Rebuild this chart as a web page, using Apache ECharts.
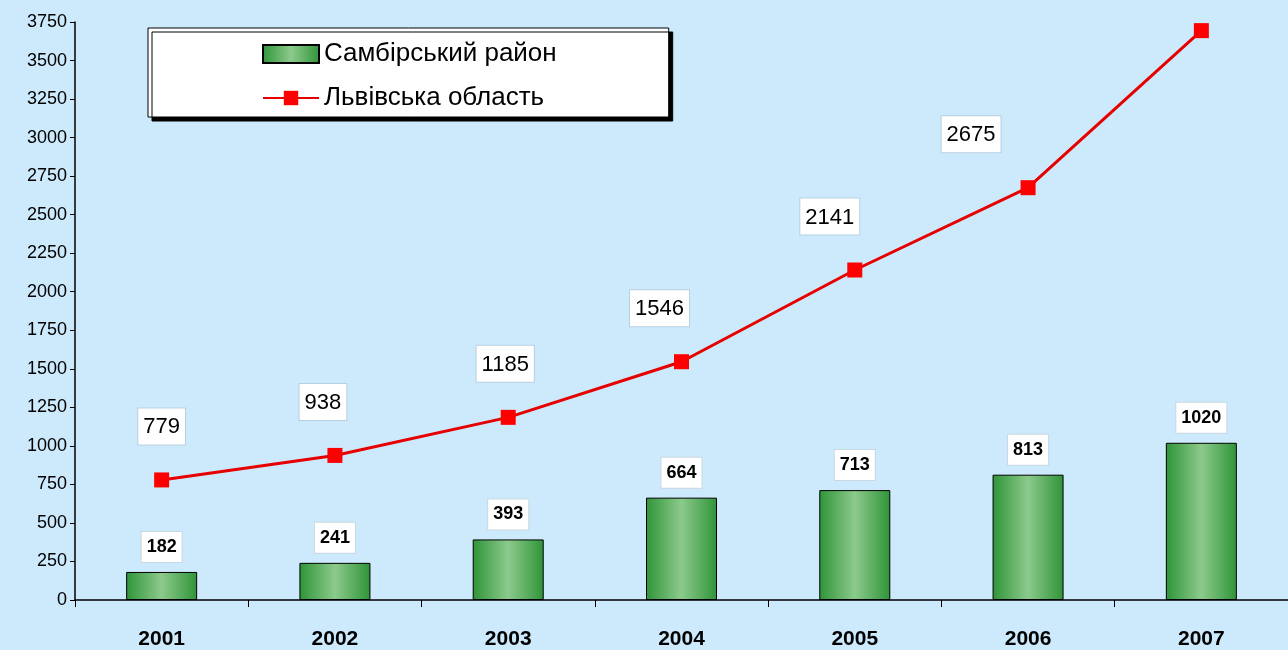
<!DOCTYPE html>
<html>
<head>
<meta charset="utf-8">
<script src="https://cdn.jsdelivr.net/npm/echarts@6/dist/echarts.min.js"></script>
<style>
  html, body { margin: 0; padding: 0; background: #cdeafc; }
  #chart { width: 1288px; height: 650px; }
</style>
</head>
<body>
<div id="chart"></div>
<script>
// дані з діаграми
const years = ['2001', '2002', '2003', '2004', '2005', '2006', '2007']
const sambirValues = [182, 241, 393, 664, 713, 813, 1020]
const lvivValues = [779, 938, 1185, 1546, 2141, 2675, 3694]
const yTicks = [0, 3750, 250] // min, max, крок

// зсув підписів лінії вліво (як в оригіналі)
const lineLabelShift = [0, -12, -3, -22, -25, -57, -79]

const chart = echarts.init(document.getElementById('chart'))

const barGradient = new echarts.graphic.LinearGradient(0, 0, 1, 0, [
    { offset: 0, color: '#2f9438' },
    { offset: 0.5, color: '#8cca8c' },
    { offset: 1, color: '#2f9438' }
])

const option = {
    backgroundColor: '#cdeafc',
    textStyle: { fontFamily: 'Liberation Sans, Arial, sans-serif' },
    legend: {
        orient: 'vertical',
        left: 148,
        top: 28,
        padding: [13, 112, 6, 114],
        itemGap: 18,
        itemWidth: 56,
        itemHeight: 18,
        backgroundColor: '#ffffff',
        borderColor: '#000',
        borderWidth: 1,
        shadowColor: '#000',
        shadowOffsetX: 4,
        shadowOffsetY: 4,
        shadowBlur: 0,
        textStyle: { fontSize: 26, color: '#000' },
        data: [
            { name: 'Самбірський район', icon: 'rect' },
            { name: 'Львівська область' }
        ]
    },
    grid: {
        left: 75,
        top: 22,
        bottom: 50,
        width: 1223
    },
    xAxis: {
        type: 'category',
        data: years,
        axisLine: { lineStyle: { color: '#000', width: 1.5 } },
        axisTick: { show: true, length: 7, lineStyle: { color: '#000' } },
        axisLabel: { fontSize: 21, fontWeight: 'bold', color: '#000', margin: 29 }
    },
    yAxis: {
        type: 'value',
        min: yTicks[0],
        max: yTicks[1],
        interval: yTicks[2],
        axisLine: { show: true, lineStyle: { color: '#000', width: 1.5 } },
        axisTick: { show: true, length: 5, lineStyle: { color: '#000' } },
        splitLine: { show: false },
        axisLabel: { fontSize: 18, color: '#000', margin: 8, formatter: v => String(v) }
    },
    series: [
        {
            name: 'Самбірський район',
            type: 'bar',
            data: sambirValues,
            barWidth: 71,
            itemStyle: { color: barGradient, borderColor: '#000', borderWidth: 1 },
            label: {
                show: true,
                position: 'top',
                distance: 10,
                fontSize: 18,
                fontWeight: 'bold',
                color: '#000',
                backgroundColor: '#fff',
                borderColor: '#c8d8e0',
                borderWidth: 1,
                padding: [6, 5, 6, 5]
            }
        },
        {
            name: 'Львівська область',
            type: 'line',
            data: lvivValues.map((v, i) => ({
                value: v,
                label: { offset: [lineLabelShift[i], 0] }
            })),
            symbol: 'rect',
            symbolSize: 15,
            lineStyle: { color: '#e60000', width: 3 },
            itemStyle: { color: '#ff0000' },
            label: {
                show: true,
                position: 'top',
                distance: 28,
                fontSize: 22,
                color: '#000',
                backgroundColor: '#fff',
                borderColor: '#b8cfe0',
                borderWidth: 1,
                padding: [8, 5, 6, 5]
            },
            z: 3
        }
    ]
}

chart.setOption(option)
</script>
</body>
</html>
